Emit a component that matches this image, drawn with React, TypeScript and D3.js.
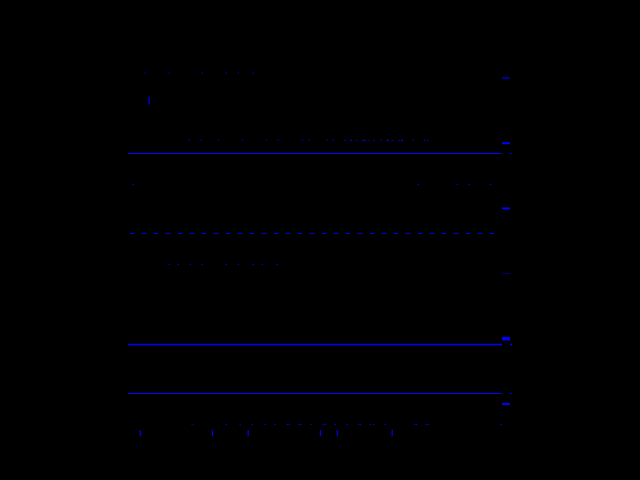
import React, { useEffect } from 'react';
import * as d3 from 'd3';

const W = 640;
const H = 480;
const BLUE = '#0000ff';

// strip rows: x values (0-100) per row, row position on the 0-100 y scale
const row1X = [4.5, 10.8, 19.3, 25.6, 28.7, 32.6];
const row2X = [16.0, 19.1, 23.5, 29.8, 36.0, 39.1, 45.4, 47.2, 51.9, 53.5, 56.6, 58.0, 58.2, 59.5, 61.0, 61.5, 61.8, 62.8, 64.1, 65.9, 67.5, 67.8, 68.8, 70.6, 71.2, 71.4, 74.3, 77.2, 78.0];
const row3X = [1.4, 75.6, 85.8, 88.9, 94.4];
const row4X = [10.8, 13.1, 16.2, 19.3, 25.6, 28.7, 32.6, 35.0, 38.9];
const row5X = [16.7, 25.6, 29.2, 32.3, 35.7, 38.3, 41.5, 42.0, 44.6, 45.1, 47.7, 50.9, 51.4, 54.0, 57.1, 60.0, 60.5, 63.1, 63.9, 67.0, 74.6, 75.1, 77.7, 78.2, 97.2];
const rowY = [8.3, 25.1, 36.1, 56.1, 96.1];
const rugX = [3.2, 22.0, 31.3, 50.1, 54.5, 68.8];
const rugY = [97.5, 98.75];
const markerX = 5.5;
const markerY = [14.2, 15.9];

// reference lines (y value, dashed, width)
const refLines = [
  { y: 28.3, dashed: false, width: 1 },
  { y: 48.3, dashed: true, width: 1 },
  { y: 76.1, dashed: false, width: 1.4 },
  { y: 88.3, dashed: false, width: 1 },
];

// legend swatch thickness and opacity
const legendWidths = [1.2, 2, 2, 1, 3.5, 2];
const legendOpacity = [1, 1, 1, 0.5, 1, 1];

const x = d3.scaleLinear().domain([0, 100]).range([128, 512]);
const y = d3.scaleLinear().domain([0, 100]).range([40, 440]);

const rows = [row1X, row2X, row3X, row4X, row5X];

const App: React.FC = () => {
  useEffect(() => {
    document.body.style.margin = '0';
    document.body.style.background = '#000';
  }, []);

  const legendY = d3.range(legendWidths.length).map(i => 78 + i * 65.2);

  return (
    <svg width={W} height={H} style={{ display: 'block', background: '#000' }}>
      <rect width={W} height={H} fill="#000" />

      {refLines.map((l, i) => (
        <line
          key={'l' + i}
          x1={x(0)}
          x2={x(100)}
          y1={Math.round(y(l.y)) + 0.5}
          y2={Math.round(y(l.y)) + 0.5}
          stroke={BLUE}
          strokeWidth={l.width}
          strokeDasharray={l.dashed ? '4.5 7.5' : undefined}
          strokeDashoffset={l.dashed ? 10.3 : undefined}
        />
      ))}

      {rows.map((vals, r) =>
        vals.map((v, i) => (
          <rect
            key={`d${r}-${i}`}
            x={x(v) - 0.6}
            y={y(rowY[r]) - 0.6}
            width={1.2}
            height={1.2}
            fill={BLUE}
          />
        ))
      )}

      {rugX.map((v, i) => (
        <line
          key={'r' + i}
          x1={x(v)}
          x2={x(v)}
          y1={y(rugY[0])}
          y2={y(rugY[1]) + 1}
          stroke={BLUE}
          strokeWidth={1.2}
        />
      ))}

      <line x1={x(markerX)} x2={x(markerX)} y1={y(markerY[0])} y2={y(markerY[1]) + 1} stroke={BLUE} strokeWidth={1.2} />

      {/* legend column */}
      <rect x={502} y={60} width={8} height={360} fill="#000" />
      {legendY.map((ly, i) => (
        <line
          key={'g' + i}
          x1={502}
          x2={510}
          y1={ly}
          y2={ly}
          stroke={BLUE}
          strokeOpacity={legendOpacity[i]}
          strokeWidth={legendWidths[i]}
        />
      ))}
    </svg>
  );
};

export default App;
